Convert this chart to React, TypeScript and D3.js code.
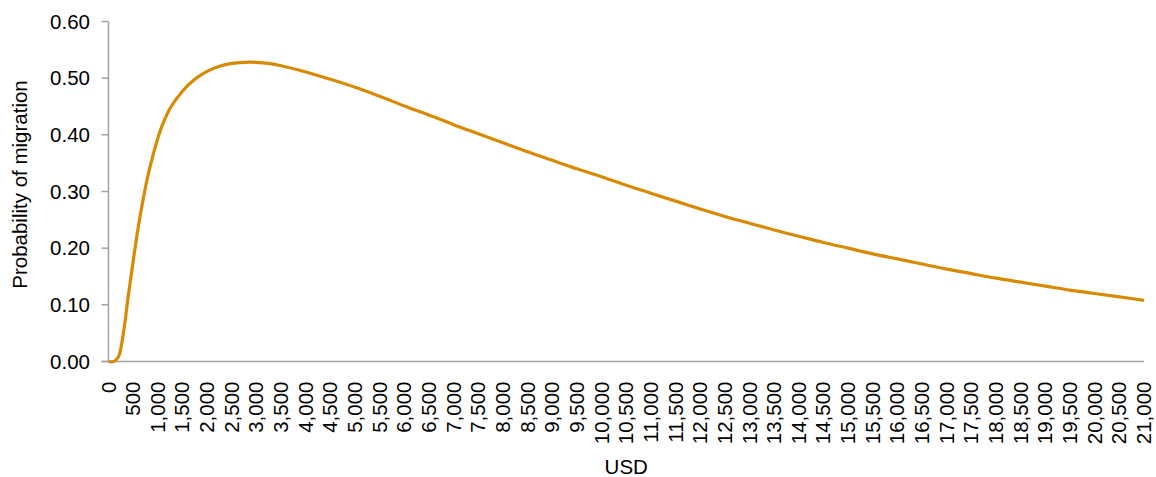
import { line, curveCatmullRom, scaleLinear } from 'd3';

// income (USD) and probability of migration
const incomeUsd = [
  0, 100, 200, 300, 400, 500, 600, 700, 800, 900, 1000, 1100, 1250, 1500, 1750, 2000, 2250, 2500,
  2750, 3000, 3250, 3500, 4000, 4500, 5000, 5500, 6000, 6500, 7000, 7500, 8000, 8500, 9000, 9500,
  10000, 10500, 11000, 11500, 12000, 12500, 13000, 13500, 14000, 14500, 15000, 15500, 16000,
  16500, 17000, 17500, 18000, 18500, 19000, 19500, 20000, 20500, 21000,
];
const probability = [
  0.0, 0.0, 0.008, 0.049, 0.115, 0.177, 0.235, 0.285, 0.328, 0.363, 0.394, 0.419, 0.447, 0.477,
  0.498, 0.512, 0.521, 0.526, 0.528, 0.528, 0.526, 0.522, 0.511, 0.498, 0.484, 0.468, 0.451,
  0.435, 0.418, 0.402, 0.386, 0.37, 0.355, 0.34, 0.326, 0.311, 0.297, 0.283, 0.269, 0.256, 0.244,
  0.232, 0.221, 0.21, 0.2, 0.19, 0.181, 0.172, 0.163, 0.155, 0.147, 0.14, 0.133, 0.126, 0.12,
  0.114, 0.108,
];
const xTicks = Array.from({ length: 43 }, (_, i) => i * 500);
const yTicks = [0, 0.1, 0.2, 0.3, 0.4, 0.5, 0.6];

const width = 1156;
const height = 477;
const plot = { left: 108.5, right: 1144, top: 21.5, bottom: 361.5 };
const axisColor = '#a3a3a3';
const lineColor = '#d98a04';
const font = '"Liberation Sans", Arial, sans-serif';

export default function App() {
  const xScale = scaleLinear().domain([0, 21000]).range([plot.left, plot.right]);
  const yScale = scaleLinear().domain([0, 0.6]).range([plot.bottom, plot.top]);

  const points = incomeUsd.map((usd, i) => [usd, probability[i]] as [number, number]);
  const path = line<[number, number]>()
    .x(d => xScale(d[0]))
    .y(d => yScale(d[1]))
    .curve(curveCatmullRom.alpha(0.5))(points);

  return (
    <svg
      width={width}
      height={height}
      viewBox={`0 0 ${width} ${height}`}
      style={{ position: 'fixed', left: 0, top: 0, background: '#fff' }}
      fontFamily={font}
    >
      {/* y axis */}
      <line x1={plot.left} x2={plot.left} y1={plot.top} y2={plot.bottom} stroke={axisColor} strokeWidth={1.5} />
      {yTicks.map(t => (
        <g key={t}>
          <line x1={plot.left - 7} x2={plot.left} y1={yScale(t)} y2={yScale(t)} stroke={axisColor} strokeWidth={1.5} />
          <text x={90} y={yScale(t)} dy="0.35em" textAnchor="end" fontSize={20.5} fill="#000">
            {t.toFixed(2)}
          </text>
        </g>
      ))}
      <text
        transform={`translate(27,${(plot.top + plot.bottom) / 2 - 7}) rotate(-90)`}
        textAnchor="middle"
        fontSize={20.5}
        fill="#000"
      >
        Probability of migration
      </text>

      {/* x axis */}
      <line x1={plot.left - 7} x2={plot.right} y1={plot.bottom} y2={plot.bottom} stroke={axisColor} strokeWidth={1.5} />
      {xTicks.map(t => (
        <text
          key={t}
          transform={`translate(${xScale(t) + 7},${plot.bottom + 20}) rotate(-90)`}
          textAnchor="end"
          fontSize={20.5}
          fill="#000"
        >
          {t.toLocaleString('en-US')}
        </text>
      ))}
      <text x={(plot.left + plot.right) / 2} y={474} textAnchor="middle" fontSize={20.5} fill="#000">
        USD
      </text>

      {/* curve */}
      <path d={path ?? ''} fill="none" stroke={lineColor} strokeWidth={3.2} strokeLinejoin="round" />
    </svg>
  );
}
